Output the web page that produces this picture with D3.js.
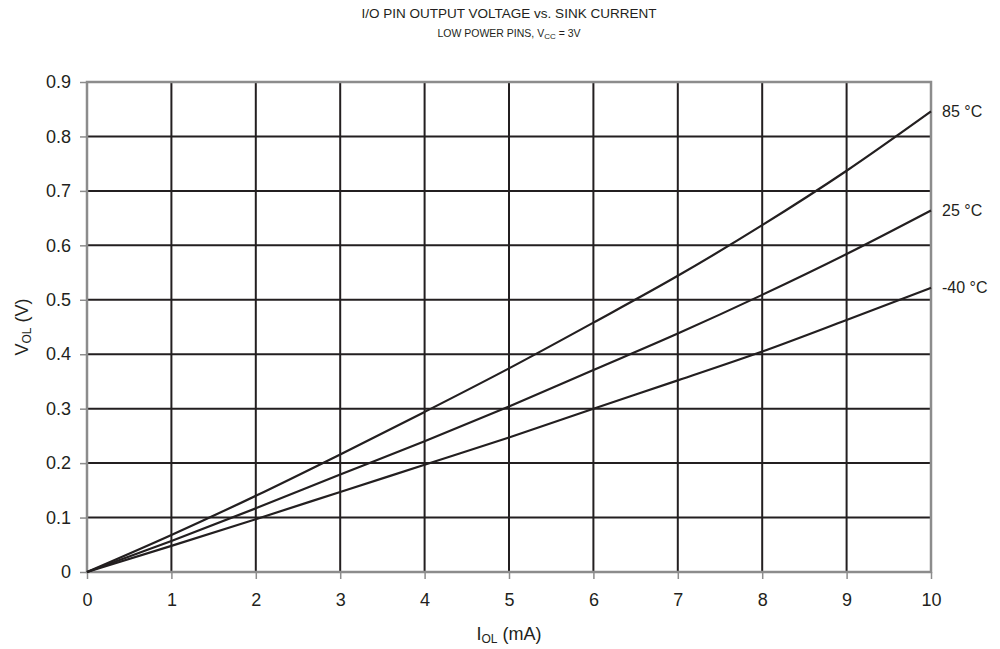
<!DOCTYPE html>
<html>
<head>
<meta charset="utf-8">
<style>
body { margin: 0; background: #fff; }
svg { font-family: "Liberation Sans", Arial, sans-serif; }
</style>
</head>
<body>
<svg width="1000" height="649"></svg>
<script src="https://cdn.jsdelivr.net/npm/d3@7/dist/d3.min.js"></script>
<script>
// sink current (mA) and V_OL readings per temperature
var current = [0, 1, 2, 3, 4, 5, 6, 7, 8, 9, 10];
var v85 = [0, 0.068, 0.140, 0.216, 0.294, 0.374, 0.458, 0.544, 0.637, 0.737, 0.846];
var v25 = [0, 0.057, 0.117, 0.179, 0.240, 0.304, 0.371, 0.438, 0.509, 0.584, 0.664];
var vm40 = [0, 0.048, 0.097, 0.147, 0.197, 0.247, 0.300, 0.352, 0.405, 0.463, 0.522];
var seriesNames = ["85 °C", "25 °C", "-40 °C"];
var xTicks = [0, 1, 2, 3, 4, 5, 6, 7, 8, 9, 10];
var yTicks = [0, 0.1, 0.2, 0.3, 0.4, 0.5, 0.6, 0.7, 0.8, 0.9];

var margin = {left: 87, right: 69, top: 82, bottom: 77};
var width = 1000 - margin.left - margin.right,
    height = 649 - margin.top - margin.bottom;

var x = d3.scaleLinear().domain([0, 10]).range([0, width]);
var y = d3.scaleLinear().domain([0, 0.9]).range([height, 0]);

var svg = d3.select("svg");
var g = svg.append("g").attr("transform", "translate(" + margin.left + "," + margin.top + ")");

// title
svg.append("text")
    .attr("x", margin.left + width / 2).attr("y", 18)
    .attr("text-anchor", "middle").style("font-size", "13.5px").style("fill", "#231f20")
    .text("I/O PIN OUTPUT VOLTAGE vs. SINK CURRENT");
var sub = svg.append("text")
    .attr("x", margin.left + width / 2).attr("y", 37)
    .attr("text-anchor", "middle").style("font-size", "10.5px").style("fill", "#231f20");
sub.append("tspan").text("LOW POWER PINS, V");
sub.append("tspan").attr("dy", 2).style("font-size", "8px").text("CC");
sub.append("tspan").attr("dy", -2).text(" = 3V");

// inner grid
g.selectAll(".vgrid").data(xTicks.slice(1, -1)).enter().append("line")
    .attr("x1", function(d) { return x(d); }).attr("x2", function(d) { return x(d); })
    .attr("y1", 0).attr("y2", height)
    .attr("stroke", "#231f20").attr("stroke-width", 2);
g.selectAll(".hgrid").data(yTicks.slice(1, -1)).enter().append("line")
    .attr("y1", function(d) { return y(d); }).attr("y2", function(d) { return y(d); })
    .attr("x1", 0).attr("x2", width)
    .attr("stroke", "#231f20").attr("stroke-width", 2);

// frame
g.append("rect").attr("width", width).attr("height", height)
    .attr("fill", "none").attr("stroke", "#8c8c8c").attr("stroke-width", 2.5);

// axes
var xAxis = g.append("g").attr("transform", "translate(0," + height + ")")
    .call(d3.axisBottom(x).tickValues(xTicks).tickSize(7).tickPadding(14).tickFormat(d3.format("d")));
var yAxis = g.append("g")
    .call(d3.axisLeft(y).tickValues(yTicks).tickSize(7).tickPadding(9)
        .tickFormat(function(d) { return d === 0 ? "0" : d3.format(".1f")(d); }));
[xAxis, yAxis].forEach(function(a) {
  a.select(".domain").remove();
  a.selectAll("line").attr("stroke", "#8c8c8c").attr("stroke-width", 1.5);
  a.selectAll("text").style("font-size", "18px").style("fill", "#231f20")
    .style("font-family", "'Liberation Sans', Arial, sans-serif");
});

// curves
var line = d3.line()
    .x(function(d, i) { return x(current[i]); })
    .y(function(d) { return y(d); })
    .curve(d3.curveMonotoneX);
var allSeries = [v85, v25, vm40];
g.selectAll(".curve").data(allSeries).enter().append("path")
    .attr("d", line).attr("fill", "none")
    .attr("stroke", "#231f20").attr("stroke-width", 2.2);

g.selectAll(".lbl").data(allSeries).enter().append("text")
    .attr("x", width + 11)
    .attr("y", function(d) { return y(d[d.length - 1]); })
    .attr("dy", "0.35em")
    .style("font-size", "16px").style("fill", "#231f20")
    .text(function(d, i) { return seriesNames[i]; });

// axis titles
var xl = svg.append("text")
    .attr("x", margin.left + width / 2).attr("y", 640)
    .attr("text-anchor", "middle").style("font-size", "18px").style("fill", "#231f20");
xl.append("tspan").text("I");
xl.append("tspan").attr("dy", 3).style("font-size", "12px").text("OL");
xl.append("tspan").attr("dy", -3).text(" (mA)");

var yl = svg.append("text")
    .attr("transform", "translate(28," + (margin.top + height / 2) + ") rotate(-90)")
    .attr("text-anchor", "middle").style("font-size", "18px").style("fill", "#231f20");
yl.append("tspan").text("V");
yl.append("tspan").attr("dy", 3).style("font-size", "12px").text("OL");
yl.append("tspan").attr("dy", -3).text(" (V)");
</script>
</body>
</html>
